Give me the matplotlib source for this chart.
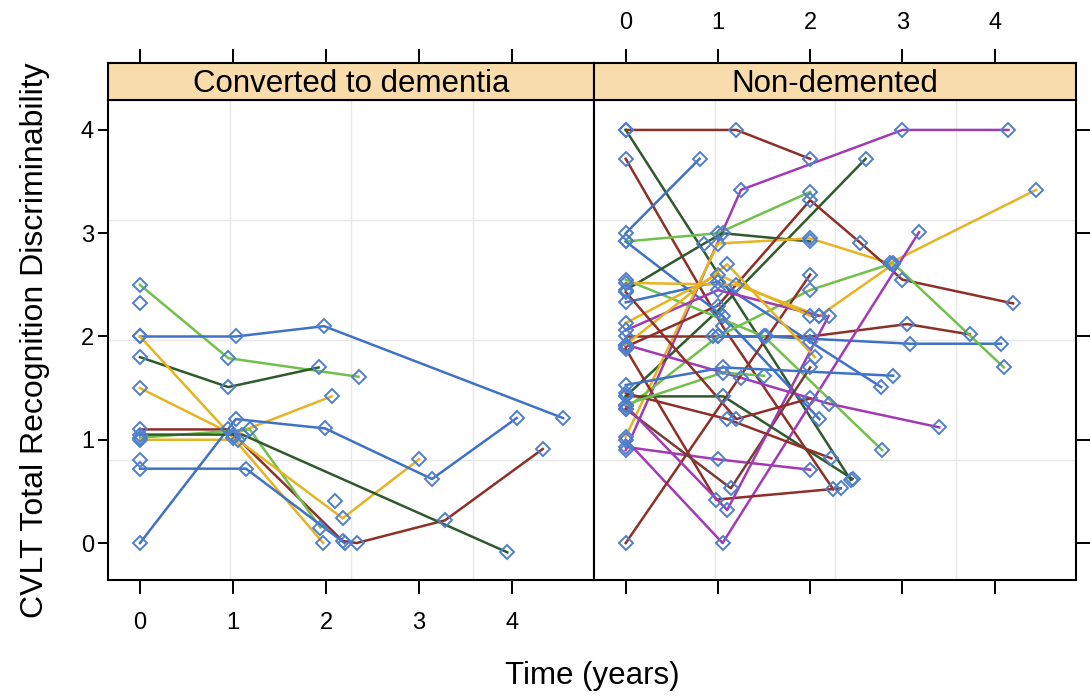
import matplotlib
matplotlib.use("Agg")
import matplotlib.pyplot as plt

plt.rcParams['font.family'] = ['Liberation Sans', 'DejaVu Sans']

panels = ["Converted to dementia", "Non-demented"]
x_ticks = [0, 1, 2, 3, 4]
y_ticks = [0, 1, 2, 3, 4]

BLUE = '#3f72c6'; GREEN = '#72c04c'; DKGREEN = '#2f5a2c'; GOLD = '#e6b322'
BROWN = '#8e2f28'; PURPLE = '#a23ab4'

# ---- Converted to dementia: (times, values, colour)
conv_times = [
    [0, 0.95, 2.35],
    [0, 0.95, 1.92],
    [0, 1.03, 1.98, 4.55],
    [0, 1.0, 2.06],
    [0, 1.0, 1.97],
    [0, 0.95, 2.18, 2.33, 3.28, 4.33],
    [0, 1.18, 1.94],
    [0, 1.05, 2.18, 3.0],
    [0, 1.14, 2.2],
    [0, 1.03, 1.99, 3.14, 4.05],
    [0, 1.1, 3.95],
    [0], [0], [2.1],
]
conv_values = [
    [2.5, 1.79, 1.61],
    [1.8, 1.51, 1.70],
    [2.0, 2.0, 2.1, 1.21],
    [1.5, 1.05, 1.42],
    [2.0, 1.02, 0.0],
    [1.1, 1.1, 0.02, 0.0, 0.22, 0.91],
    [1.02, 1.1, 0.15],
    [1.0, 1.0, 0.24, 0.81],
    [0.72, 0.72, 0.0],
    [0.0, 1.2, 1.11, 0.62, 1.21],
    [1.05, 1.05, -0.09],
    [2.32], [0.8], [0.41],
]
conv_colors = [GREEN, DKGREEN, BLUE, GOLD, GOLD, BROWN, GREEN, GOLD, BLUE, BLUE,
               DKGREEN, BLUE, BLUE, BLUE]

# ---- Non-demented
nd_times = [
    [0, 1.2, 2.0],
    [0, 2.44],
    [0, 1.05, 2.25],
    [0, 0.8],
    [0, 1.0, 2.0],
    [0, 1.05, 2.1],
    [0, 1.25, 3.0, 4.15],
    [0, 1.0, 2.6],
    [0, 0.85, 1.05, 2.0],
    [0, 1.0, 2.0, 2.86, 4.45],
    [0, 1.0, 2.0, 2.54, 3.0, 4.2],
    [0, 0.95, 2.0, 3.05, 3.73],
    [1.0, 1.52, 3.08, 4.07],
    [0, 1.0, 2.0, 2.9, 4.1],
    [0, 1.05, 3.18],
    [0, 1.5, 2.78],
    [0, 1.0, 2.0],
    [0, 1.25, 2.2, 3.4],
    [0, 2.0],
    [0, 0.98, 2.33],
    [0, 1.14, 2.0],
    [0, 1.1, 2.2],
    [0, 1.06, 2.46],
    [0, 1.1, 2.23],
    [0, 1.06, 2.9],
    [0, 1.0, 2.0, 2.77],
    [0, 1.2, 2.1, 2.9],
    [0, 1.05, 1.5],
    [0, 1.0, 2.1],
    [0, 1.0, 2.0],
    [0, 1.1, 2.05],
    [0, 1.2, 2.0],
]
nd_values = [
    [4.0, 4.0, 3.72],
    [4.0, 0.61],
    [3.72, 2.1, 0.52],
    [3.0, 3.72],
    [2.92, 3.0, 3.4],
    [2.92, 2.2, 1.2],
    [0.9, 3.42, 4.0, 4.0],
    [1.42, 2.25, 3.72],
    [2.45, 2.9, 3.0, 2.92],
    [1.03, 2.9, 2.95, 2.71, 3.42],
    [1.9, 2.3, 3.32, 2.91, 2.55, 2.32],
    [2.0, 2.0, 2.0, 2.12, 2.02],
    [2.0, 2.0, 1.93, 1.93],
    [1.3, 2.0, 2.45, 2.71, 1.7],
    [1.0, 0.0, 3.01],
    [2.55, 2.0, 0.9],
    [0.93, 0.81, 0.71],
    [1.92, 1.6, 1.35, 1.12],
    [0.0, 2.6],
    [1.88, 0.42, 0.53],
    [1.3, 0.53, 1.7],
    [1.33, 0.32, 2.2],
    [1.42, 1.42, 0.62],
    [1.45, 1.2, 0.82],
    [1.53, 1.7, 1.62],
    [2.33, 2.53, 1.95, 1.51],
    [2.52, 2.5, 2.2, 2.7],
    [1.34, 1.65, 1.62],
    [2.06, 2.45, 2.2],
    [2.13, 2.6, 2.2],
    [1.92, 2.7, 1.8],
    [2.43, 1.2, 1.4],
]
nd_colors = [BROWN, DKGREEN, BROWN, BLUE, GREEN, BLUE, PURPLE, DKGREEN, DKGREEN, GOLD,
             BROWN, BROWN, BLUE, GREEN, PURPLE, GREEN, PURPLE, PURPLE, BROWN, BROWN,
             '#7a3b35', PURPLE, DKGREEN, BROWN, BLUE, BLUE, GOLD, GREEN, PURPLE, GOLD,
             GOLD, BROWN]

W, H = 1090, 698
fig = plt.figure(figsize=(W / 100, H / 100), dpi=100)

def rect(x0, y0, x1, y1):
    return [x0 / W, 1 - y1 / H, (x1 - x0) / W, (y1 - y0) / H]

axL = fig.add_axes(rect(108, 100, 594, 580))
axR = fig.add_axes(rect(594, 100, 1076, 580))
stL = fig.add_axes(rect(108, 63, 594, 100))
stR = fig.add_axes(rect(594, 63, 1076, 100))

XMIN, XMAX = -0.344, 4.882
YMIN, YMAX = -0.358, 4.29
MK = '#4f7fcc'

def draw(ax, times, values, colors):
    for t, v, c in zip(times, values, colors):
        ax.plot(t, v, color=c, lw=1.8, zorder=3)
        ax.plot(t, v, ls='none', marker='D', ms=7.5, mfc='none', mec=MK, mew=1.4, zorder=4)

draw(axL, conv_times, conv_values, conv_colors)
draw(axR, nd_times, nd_values, nd_colors)

TL = 10  # tick length in points

for ax in (axL, axR):
    ax.set_xlim(XMIN, XMAX)
    ax.set_ylim(YMIN, YMAX)
    for f in (0.25, 0.5, 0.75):
        ax.axvline(XMIN + f * (XMAX - XMIN), color='#e8e8e8', lw=1, zorder=1)
        ax.axhline(YMIN + f * (YMAX - YMIN), color='#e8e8e8', lw=1, zorder=1)
    ax.set_xticks(x_ticks)
    ax.set_yticks(y_ticks)
    for s in ax.spines.values():
        s.set_linewidth(1.5)
    ax.tick_params(axis='x', direction='out', length=TL, width=1.4, labelsize=17, pad=13)
    ax.tick_params(axis='y', direction='out', length=7, width=1.4, labelsize=17, pad=3)

axL.tick_params(bottom=True, labelbottom=True, left=True, labelleft=True,
                top=False, right=False)
axR.tick_params(bottom=True, labelbottom=False, left=False, labelleft=False,
                right=True, labelright=False, top=False)
axR.tick_params(axis='y', length=TL)

for st, name in zip((stL, stR), panels):
    st.set_facecolor('#f8dcab')
    st.set_xlim(XMIN, XMAX)
    st.set_ylim(0, 1)
    st.set_yticks([])
    st.set_xticks(x_ticks)
    for s in st.spines.values():
        s.set_linewidth(1.5)
    st.text(0.5, 0.42, name, transform=st.transAxes, ha='center', va='center', fontsize=22.5)
    st.tick_params(direction='out', length=TL, width=1.4, labelsize=17, pad=11,
                   bottom=False, labelbottom=False, top=True)
stL.tick_params(labeltop=False)
stR.tick_params(labeltop=True)

fig.text(35 / W, 1 - 340 / H, 'CVLT Total Recognition Discriminability', rotation=90,
         ha='center', va='center', fontsize=23)
fig.text(592 / W, 1 - 676 / H, 'Time (years)', ha='center', va='center', fontsize=22.5)

fig.savefig('out.png', dpi=100)
